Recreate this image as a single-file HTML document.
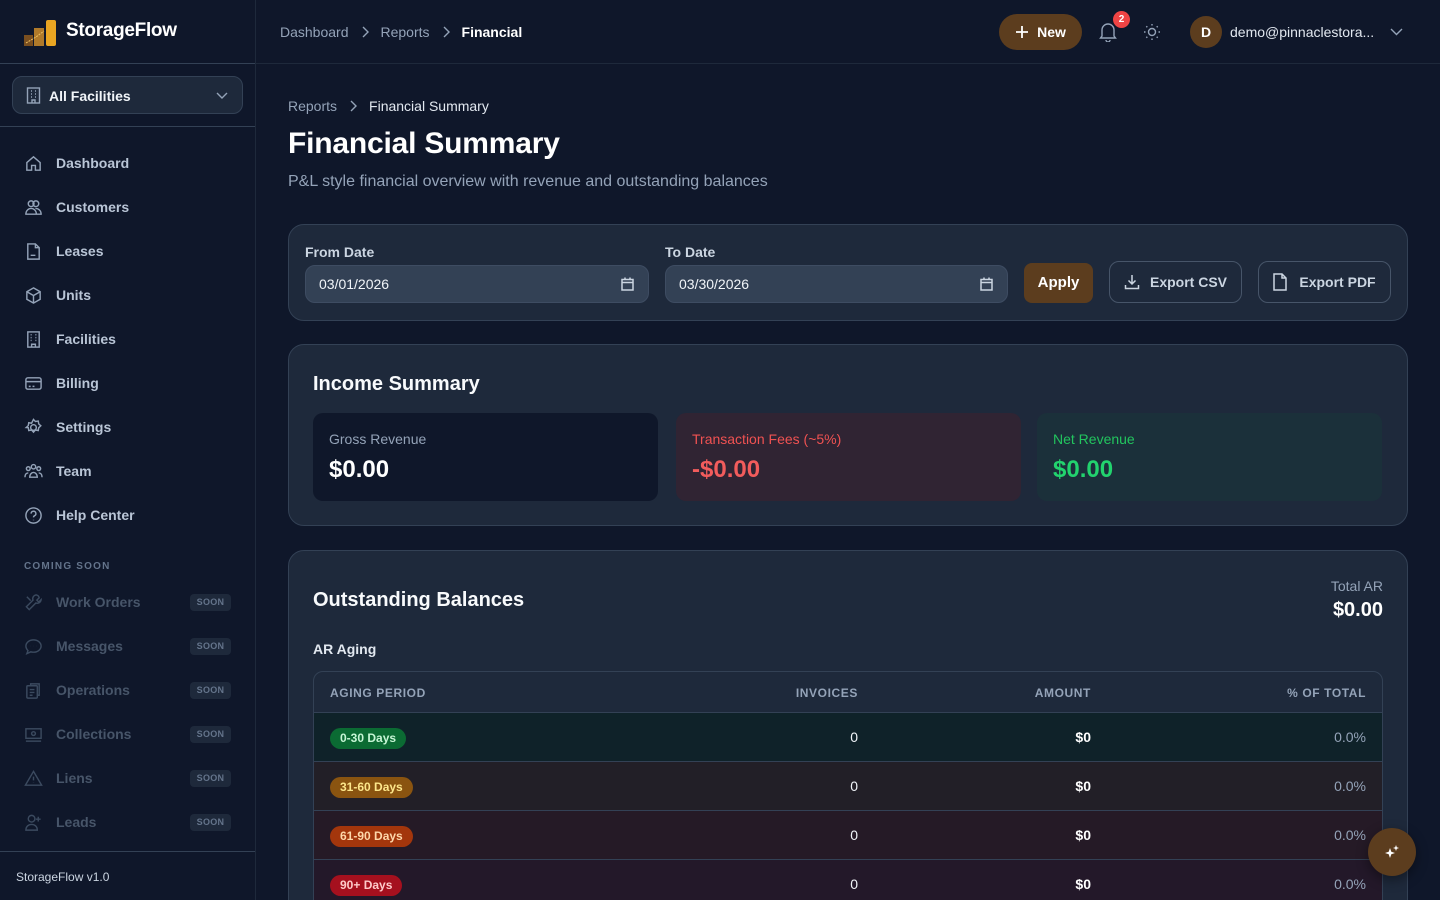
<!DOCTYPE html>
<html><head><meta charset="utf-8">
<style>
*{box-sizing:border-box;margin:0;padding:0}
html,body{width:1440px;height:900px;overflow:hidden}
body{background:#0f172a;font-family:"Liberation Sans",sans-serif;color:#e2e8f0;position:relative}
.abs{position:absolute}
.sb{position:absolute;left:0;top:0;width:256px;height:900px;background:#0f172a;border-right:1px solid #1e293b}
.nav{position:absolute;left:24px;display:flex;align-items:center;font-size:14px;font-weight:bold;color:#b9c5d6;height:20px}
.nav svg{width:19px;height:19px;margin-right:13px;stroke:#94a3b8;fill:none;stroke-width:1.5}
.soon{color:#475569}
.soon svg{stroke:#3b4a5f}
.badge{position:absolute;left:190px;width:41px;height:17px;border-radius:4px;background:#1e293b;color:#64748b;font-size:9px;font-weight:bold;text-align:center;line-height:17px;letter-spacing:.3px}
.card{position:absolute;left:288px;width:1120px;background:#1e293b;border:1px solid #334155;border-radius:16px}
.lbl{font-size:14px;font-weight:bold;color:#cbd5e1}
.inp{position:absolute;height:38px;background:#334155;border:1px solid #3e4c62;border-radius:10px;font-size:14px;color:#f1f5f9;padding-left:13px;line-height:36px}
.btn{position:absolute;border:1px solid #475569;border-radius:10px;font-size:14px;font-weight:bold;color:#cbd5e1;display:flex;align-items:center;justify-content:center}
.box{position:absolute;top:68px;height:88px;width:345px;border-radius:10px;padding:18px 16px}
.box .l{font-size:14px}
.box .v{font-size:24px;font-weight:bold;margin-top:9px}
.row{position:absolute;left:0;width:1068px;height:49px;border-top:1px solid #334155}
.pill{position:absolute;left:16px;top:15px;height:21px;border-radius:11px;font-size:12px;font-weight:bold;line-height:21px;padding:0 10px}
.c1{position:absolute;right:524px;top:16px;font-size:14px;color:#f1f5f9}
.c2{position:absolute;right:291px;top:16px;font-size:14px;font-weight:bold;color:#fff}
.c3{position:absolute;right:16px;top:16px;font-size:14px;color:#94a3b8}
.th{position:absolute;top:14px;font-size:12px;color:#94a3b8;letter-spacing:.6px;font-weight:bold}
</style></head><body>

<!-- Sidebar -->
<div class="sb">
  <div class="abs" style="left:0;top:63px;width:255px;border-top:1px solid #334155"></div>
  <svg class="abs" style="left:24px;top:19px" width="33" height="27" viewBox="0 0 33 27">
    <rect x="0" y="16" width="9" height="11" fill="#7a4f1f"/>
    <rect x="10" y="9" width="10" height="18" fill="#b07a2a"/>
    <rect x="22" y="1" width="10" height="26" rx="2" fill="#e9a522"/>
    <path d="M2 24 L12 18 L20 12" stroke="#f0c060" stroke-width="1" fill="none" stroke-dasharray="2 1"/>
  </svg>
  <div class="abs" style="left:66px;top:20px;font-size:19px;font-weight:bold;color:#fff;letter-spacing:-.3px">StorageFlow</div>

  <div class="abs" style="left:12px;top:76px;width:231px;height:38px;background:#1e293b;border:1px solid #334155;border-radius:10px">
    <svg class="abs" style="left:13px;top:10px" width="15" height="17" viewBox="0 0 15 17" fill="none" stroke="#94a3b8" stroke-width="1.4"><rect x="1.5" y="1" width="12" height="15"/><path d="M5 4h1M9 4h1M5 7h1M9 7h1M5 10h1M9 10h1M6 16v-3h3v3"/></svg>
    <div class="abs" style="left:36px;top:11px;font-size:14px;font-weight:bold;color:#f1f5f9">All Facilities</div>
    <svg class="abs" style="left:203px;top:13px" width="12" height="10" viewBox="0 0 12 10" fill="none" stroke="#94a3b8" stroke-width="1.4"><path d="M1 3l5 5 5-5"/></svg>
  </div>
  <div class="abs" style="left:0;top:126px;width:255px;border-top:1px solid #334155"></div>

  <div class="nav" style="top:153px"><svg viewBox="0 0 20 20"><path d="M3 9l7-6 7 6v8h-5v-5H8v5H3z"/></svg>Dashboard</div>
  <div class="nav" style="top:197px"><svg viewBox="0 0 20 20"><circle cx="7.5" cy="6" r="3"/><circle cx="12.5" cy="6" r="3"/><path d="M2 17c0-4 3-6 5.5-6s5.5 2 5.5 6zM12 11c3 0 6 2 6 6h-5"/></svg>Customers</div>
  <div class="nav" style="top:241px"><svg viewBox="0 0 20 20"><path d="M4 2h8l4 4v12H4zM12 2v4h4M7 14h5"/></svg>Leases</div>
  <div class="nav" style="top:285px"><svg viewBox="0 0 20 20"><path d="M10 2l7 4v8l-7 4-7-4V6zM3 6l7 4 7-4M10 10v8"/></svg>Units</div>
  <div class="nav" style="top:329px"><svg viewBox="0 0 20 20"><rect x="4" y="2" width="12" height="16"/><path d="M7 5h1M12 5h1M7 8h1M12 8h1M7 11h1M12 11h1M8 18v-3h4v3"/></svg>Facilities</div>
  <div class="nav" style="top:373px"><svg viewBox="0 0 20 20"><rect x="2" y="4" width="16" height="12" rx="2"/><path d="M2 8h16M5 13h2M9 13h2"/></svg>Billing</div>
  <div class="nav" style="top:417px"><svg viewBox="0 0 20 20"><circle cx="10" cy="10" r="3"/><path d="M10 1.5l2 2.2 3-.5.5 3 2.2 2-2.2 2-.5 3-3-.5-2 2.2-2-2.2-3 .5-.5-3L2.3 10l2.2-2 .5-3 3 .5z"/></svg>Settings</div>
  <div class="nav" style="top:461px"><svg viewBox="0 0 20 20"><circle cx="10" cy="5" r="2.3"/><circle cx="4.5" cy="7" r="2"/><circle cx="15.5" cy="7" r="2"/><path d="M6 16c0-3 2-5 4-5s4 2 4 5zM1 16c0-3 1.5-4.5 3.5-4.5M19 16c0-3-1.5-4.5-3.5-4.5"/></svg>Team</div>
  <div class="nav" style="top:505px"><svg viewBox="0 0 20 20"><circle cx="10" cy="10" r="8"/><path d="M7.5 8a2.5 2.5 0 1 1 3.5 2.3c-.7.3-1 .8-1 1.7M10 14.5v.5"/></svg>Help Center</div>

  <div class="abs" style="left:24px;top:561px;font-size:10px;letter-spacing:1.2px;color:#64748b;font-weight:bold">COMING SOON</div>

  <div class="nav soon" style="top:592px"><svg viewBox="0 0 20 20"><path d="M13 2a4 4 0 0 0-3.5 5.5L2.5 14.5l3 3 7-7A4 4 0 0 0 18 7l-2.5 2.5-2-2L16 5A4 4 0 0 0 13 2zM3 4l4 4"/></svg>Work Orders</div>
  <div class="badge" style="top:594px">SOON</div>
  <div class="nav soon" style="top:636px"><svg viewBox="0 0 20 20"><path d="M10 3c4.4 0 8 2.9 8 6.5S14.4 16 10 16c-1 0-2-.1-2.8-.4L3 17.5l1.2-3.2C2.8 13 2 11.3 2 9.5 2 5.9 5.6 3 10 3z"/><path d="M7 9.5h.1M10 9.5h.1M13 9.5h.1"/></svg>Messages</div>
  <div class="badge" style="top:638px">SOON</div>
  <div class="nav soon" style="top:680px"><svg viewBox="0 0 20 20"><rect x="3" y="5" width="11" height="13" rx="1"/><path d="M7 5V3h9v12h-2M6 9h5M6 12h5M6 15h3"/></svg>Operations</div>
  <div class="badge" style="top:682px">SOON</div>
  <div class="nav soon" style="top:724px"><svg viewBox="0 0 20 20"><rect x="2" y="4" width="16" height="10"/><circle cx="10" cy="9" r="2"/><path d="M2 17h16"/></svg>Collections</div>
  <div class="badge" style="top:726px">SOON</div>
  <div class="nav soon" style="top:768px"><svg viewBox="0 0 20 20"><path d="M10 2.5L18.5 17h-17zM10 8v4M10 14.5v.3"/></svg>Liens</div>
  <div class="badge" style="top:770px">SOON</div>
  <div class="nav soon" style="top:812px"><svg viewBox="0 0 20 20"><circle cx="8" cy="6" r="3.5"/><path d="M2 18c0-4 3-6 6-6s6 2 6 6zM15 4v5M12.5 6.5h5"/></svg>Leads</div>
  <div class="badge" style="top:814px">SOON</div>

  <div class="abs" style="left:0;top:851px;width:255px;border-top:1px solid #334155"></div>
  <div class="abs" style="left:16px;top:870px;font-size:12px;color:#cbd5e1">StorageFlow v1.0</div>
</div>

<!-- Top bar -->
<div class="abs" style="left:256px;top:63px;width:1184px;border-top:1px solid #1e293b"></div>
<div class="abs" style="left:280px;top:24px;font-size:14px;color:#94a3b8;display:flex;align-items:center">
  <span>Dashboard</span>
  <svg width="32" height="12" viewBox="0 0 32 12" fill="none" stroke="#94a3b8" stroke-width="1.4"><path d="M14 1l5 5-5 5"/></svg>
  <span>Reports</span>
  <svg width="32" height="12" viewBox="0 0 32 12" fill="none" stroke="#94a3b8" stroke-width="1.4"><path d="M14 1l5 5-5 5"/></svg>
  <span style="color:#fff;font-weight:bold">Financial</span>
</div>
<div class="abs" style="left:999px;top:14px;width:83px;height:36px;border-radius:18px;background:#5c3d1e;color:#fff;font-size:14px;font-weight:bold;display:flex;align-items:center;justify-content:center">
  <svg width="14" height="14" viewBox="0 0 14 14" stroke="#fff" stroke-width="1.8" style="margin-right:8px"><path d="M7 1v12M1 7h12"/></svg>New
</div>
<svg class="abs" style="left:1099px;top:22px" width="18" height="20" viewBox="0 0 18 20" fill="none" stroke="#94a3b8" stroke-width="1.4"><path d="M3 14V8a6 6 0 0 1 12 0v6l1.5 2h-15zM7 18a2 2 0 0 0 4 0"/></svg>
<div class="abs" style="left:1113px;top:11px;width:17px;height:17px;border-radius:50%;background:#ef4444;color:#fff;font-size:10px;font-weight:bold;text-align:center;line-height:17px">2</div>
<svg class="abs" style="left:1143px;top:23px" width="18" height="18" viewBox="0 0 18 18" fill="none" stroke="#94a3b8" stroke-width="1.4"><circle cx="9" cy="9" r="3.5"/><path d="M9 1v1.5M9 15.5V17M1 9h1.5M15.5 9H17M3.3 3.3l1 1M13.7 13.7l1 1M3.3 14.7l1-1M13.7 4.3l1-1"/></svg>
<div class="abs" style="left:1190px;top:16px;width:32px;height:32px;border-radius:50%;background:#5c3d1e;color:#fff;font-size:14px;font-weight:bold;text-align:center;line-height:32px">D</div>
<div class="abs" style="left:1230px;top:24px;font-size:14px;color:#e2e8f0">demo@pinnaclestora...</div>
<svg class="abs" style="left:1390px;top:27px" width="13" height="10" viewBox="0 0 13 10" fill="none" stroke="#94a3b8" stroke-width="1.4"><path d="M1 2l5.5 5.5L12 2"/></svg>

<!-- Page header -->
<div class="abs" style="left:288px;top:98px;font-size:14px;color:#94a3b8;display:flex;align-items:center">
  <span>Reports</span>
  <svg width="32" height="12" viewBox="0 0 32 12" fill="none" stroke="#94a3b8" stroke-width="1.4"><path d="M14 1l5 5-5 5"/></svg>
  <span style="color:#e2e8f0">Financial Summary</span>
</div>
<div class="abs" style="left:288px;top:127px;font-size:30px;font-weight:bold;color:#fff;letter-spacing:-.2px">Financial Summary</div>
<div class="abs" style="left:288px;top:173px;font-size:16px;color:#94a3b8">P&amp;L style financial overview with revenue and outstanding balances</div>

<!-- Filter card -->
<div class="card" style="top:224px;height:97px">
  <div class="abs lbl" style="left:16px;top:19px">From Date</div>
  <div class="inp" style="left:16px;top:40px;width:344px">03/01/2026
    <svg class="abs" style="right:14px;top:11px" width="13" height="14" viewBox="0 0 13 14" fill="none" stroke="#cbd5e1" stroke-width="1.5"><rect x="1" y="2.5" width="11" height="10.5"/><path d="M1 5.5h11M4 0.5v2M9 0.5v2"/></svg>
  </div>
  <div class="abs lbl" style="left:376px;top:19px">To Date</div>
  <div class="inp" style="left:376px;top:40px;width:343px">03/30/2026
    <svg class="abs" style="right:14px;top:11px" width="13" height="14" viewBox="0 0 13 14" fill="none" stroke="#cbd5e1" stroke-width="1.5"><rect x="1" y="2.5" width="11" height="10.5"/><path d="M1 5.5h11M4 0.5v2M9 0.5v2"/></svg>
  </div>
  <div class="abs" style="left:735px;top:38px;width:69px;height:40px;border-radius:8px;background:#5c3d1e;color:#fff;font-size:15px;font-weight:bold;text-align:center;line-height:40px">Apply</div>
  <div class="btn" style="left:820px;top:36px;width:133px;height:42px">
    <svg width="16" height="16" viewBox="0 0 16 16" fill="none" stroke="#cbd5e1" stroke-width="1.5" style="margin-right:10px"><path d="M8 1v9M4.5 6.5L8 10l3.5-3.5M1.5 11v3.5h13V11"/></svg>Export CSV
  </div>
  <div class="btn" style="left:969px;top:36px;width:133px;height:42px">
    <svg width="14" height="18" viewBox="0 0 14 18" fill="none" stroke="#cbd5e1" stroke-width="1.5" style="margin-right:12px"><path d="M1 1h8l4 4v12H1zM9 1v4h4"/></svg>Export PDF
  </div>
</div>

<!-- Income summary -->
<div class="card" style="top:344px;height:182px">
  <div class="abs" style="left:24px;top:28px;font-size:20px;font-weight:bold;color:#f8fafc">Income Summary</div>
  <div class="box" style="left:24px;background:#0f172a"><div class="l" style="color:#94a3b8">Gross Revenue</div><div class="v" style="color:#fff">$0.00</div></div>
  <div class="box" style="left:387px;background:#302433"><div class="l" style="color:#f05252">Transaction Fees (~5%)</div><div class="v" style="color:#f25c5c">-$0.00</div></div>
  <div class="box" style="left:748px;background:#1b303a"><div class="l" style="color:#22c55e">Net Revenue</div><div class="v" style="color:#22d36e">$0.00</div></div>
</div>

<!-- Outstanding balances -->
<div class="card" style="top:550px;height:370px">
  <div class="abs" style="left:24px;top:38px;font-size:20px;font-weight:bold;color:#f8fafc">Outstanding Balances</div>
  <div class="abs" style="right:24px;top:27px;font-size:14px;color:#94a3b8;text-align:right">Total AR</div>
  <div class="abs" style="right:24px;top:48px;font-size:20px;font-weight:bold;color:#fff">$0.00</div>
  <div class="abs" style="left:24px;top:90px;font-size:14px;font-weight:bold;color:#e2e8f0">AR Aging</div>
  <div class="abs" style="left:24px;top:120px;width:1070px;height:260px;border:1px solid #334155;border-radius:10px;overflow:hidden">
    <div class="th" style="left:16px">AGING PERIOD</div>
    <div class="th" style="right:524px">INVOICES</div>
    <div class="th" style="right:291px">AMOUNT</div>
    <div class="th" style="right:16px">% OF TOTAL</div>
    <div class="row" style="top:40px;background:#0f2229"><div class="pill" style="background:#0b6b33;color:#c6f6d5">0-30 Days</div><div class="c1">0</div><div class="c2">$0</div><div class="c3">0.0%</div></div>
    <div class="row" style="top:89px;background:#221f27"><div class="pill" style="background:#8a5410;color:#fde68a">31-60 Days</div><div class="c1">0</div><div class="c2">$0</div><div class="c3">0.0%</div></div>
    <div class="row" style="top:138px;background:#251a26"><div class="pill" style="background:#a3360c;color:#fed7aa">61-90 Days</div><div class="c1">0</div><div class="c2">$0</div><div class="c3">0.0%</div></div>
    <div class="row" style="top:187px;background:#231829"><div class="pill" style="background:#a5101e;color:#fecaca">90+ Days</div><div class="c1">0</div><div class="c2">$0</div><div class="c3">0.0%</div></div>
  </div>
</div>

<!-- FAB -->
<div class="abs" style="left:1368px;top:828px;width:48px;height:48px;border-radius:50%;background:#5c3d1e;box-shadow:0 4px 12px rgba(0,0,0,.4)">
  <svg class="abs" style="left:14px;top:14px" width="20" height="20" viewBox="0 0 20 20" fill="#fff"><path d="M8 6l1.3 3.7L13 11l-3.7 1.3L8 16l-1.3-3.7L3 11l3.7-1.3z"/><path d="M14 3l.8 2.2L17 6l-2.2.8L14 9l-.8-2.2L11 6l2.2-.8z"/></svg>
</div>
</body></html>
